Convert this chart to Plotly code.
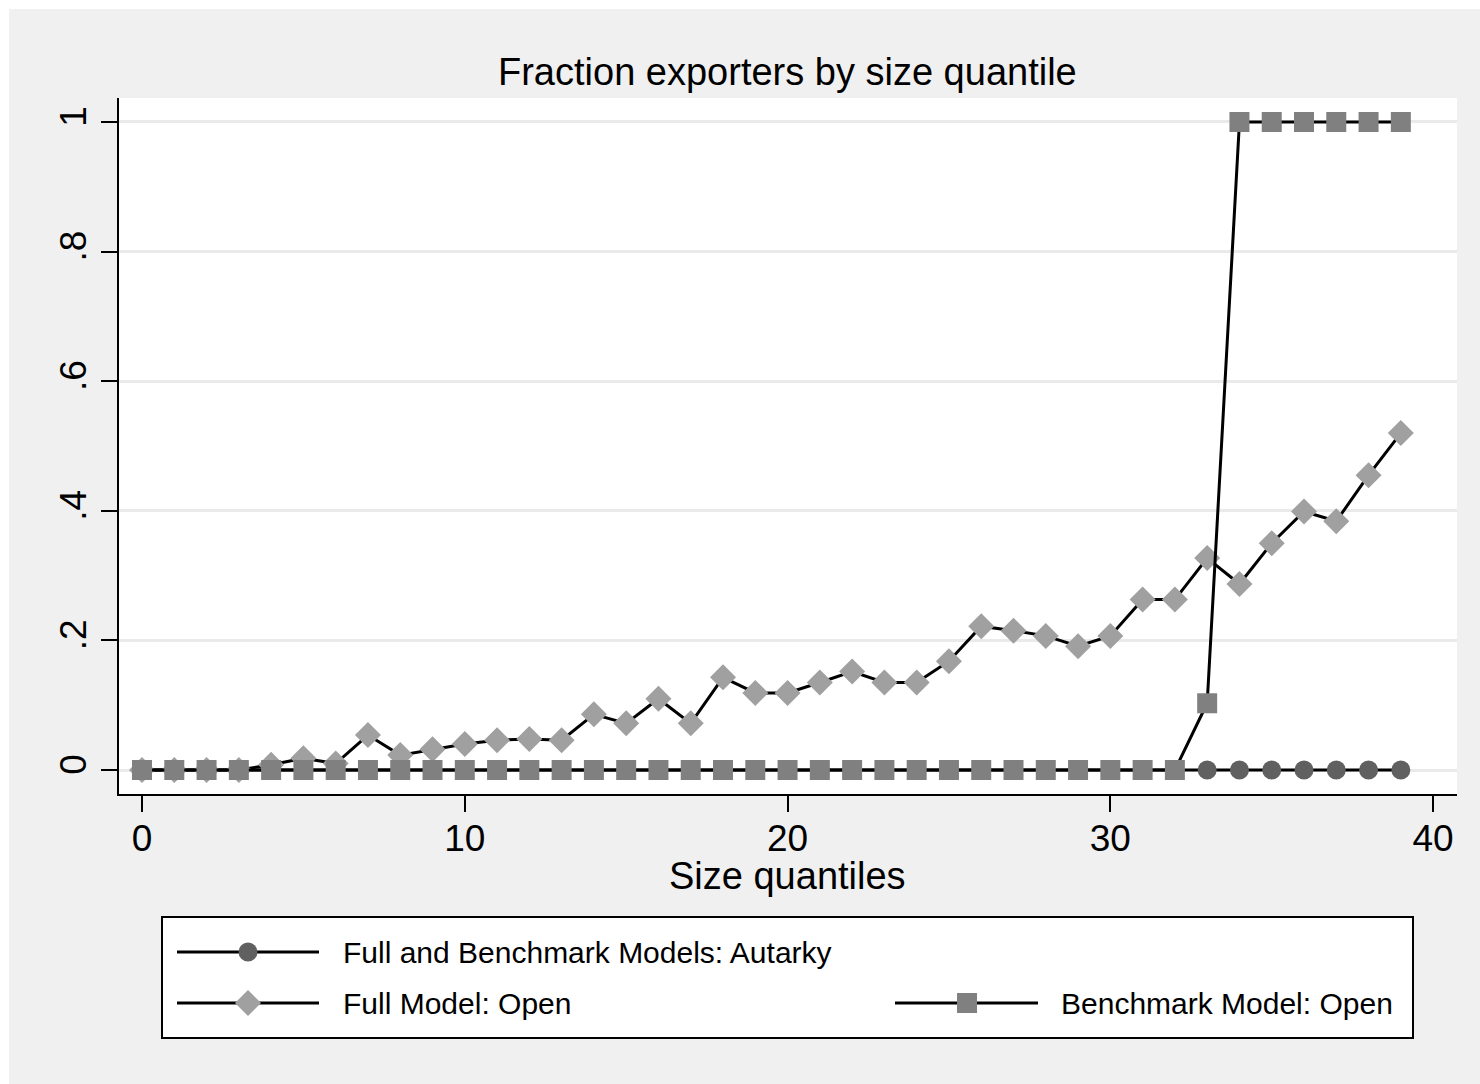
import plotly.graph_objects as go

# ---- data ----
quantiles = list(range(40))
autarky = [0.0] * 40
full_open = [0.0, 0.0, 0.0, 0.0, 0.008, 0.018, 0.010, 0.054, 0.023, 0.032,
             0.040, 0.046, 0.048, 0.046, 0.086, 0.072, 0.110, 0.072, 0.143, 0.119,
             0.119, 0.135, 0.152, 0.135, 0.135, 0.168, 0.222, 0.215, 0.207, 0.191,
             0.207, 0.263, 0.263, 0.327, 0.287, 0.350, 0.399, 0.384, 0.455, 0.520]
bench_open = [0.0] * 33 + [0.103] + [1.0] * 6

series_names = ["Full and Benchmark Models: Autarky", "Full Model: Open", "Benchmark Model: Open"]
x_ticks = [0, 10, 20, 30, 40]
y_ticks = [0, 0.2, 0.4, 0.6, 0.8, 1.0]
y_ticktext = ["0", ".2", ".4", ".6", ".8", "1"]

FONT = "Liberation Sans, Arial, sans-serif"
W, H = 1480, 1084
L, R, T, B = 119, 23, 98, 290
PW, PH = W - L - R, H - T - B

def px(xp):
    return (xp - L) / PW

def py(yp):
    return (H - B - yp) / PH

C_CIRCLE = "#606060"
C_DIAMOND = "#a0a0a0"
C_SQUARE = "#808080"
LW = 3

fig = go.Figure()
fig.add_trace(go.Scatter(x=quantiles, y=autarky, mode="lines+markers", name=series_names[0],
                         line=dict(color="black", width=LW),
                         marker=dict(symbol="circle", size=19, color=C_CIRCLE, line=dict(width=0))))
fig.add_trace(go.Scatter(x=quantiles, y=full_open, mode="lines+markers", name=series_names[1],
                         line=dict(color="black", width=LW),
                         marker=dict(symbol="diamond", size=20, color=C_DIAMOND, line=dict(width=0))))
fig.add_trace(go.Scatter(x=quantiles, y=bench_open, mode="lines+markers", name=series_names[2],
                         line=dict(color="black", width=LW),
                         marker=dict(symbol="square", size=20, color=C_SQUARE, line=dict(width=0))))

shapes = []
# white outer border strips (top, left)
shapes.append(dict(type="rect", xref="paper", yref="paper", x0=px(0), x1=px(W), y0=py(9), y1=py(0),
                   fillcolor="white", line=dict(width=0), layer="below"))
shapes.append(dict(type="rect", xref="paper", yref="paper", x0=px(0), x1=px(9), y0=py(H), y1=py(0),
                   fillcolor="white", line=dict(width=0), layer="below"))

# legend box
shapes.append(dict(type="rect", xref="paper", yref="paper", x0=px(162), x1=px(1413), y0=py(1038), y1=py(917),
                   fillcolor="white", line=dict(color="black", width=2), layer="above"))

legend_keys = [
    (177, 319, 248, 952, "circle", C_CIRCLE),
    (177, 319, 248, 1003, "diamond", C_DIAMOND),
    (895, 1038, 967, 1003, "square", C_SQUARE),
]
for x0p, x1p, xm, yc, sym, col in legend_keys:
    shapes.append(dict(type="line", xref="paper", yref="paper", x0=px(x0p), x1=px(x1p), y0=py(yc), y1=py(yc),
                       line=dict(color="black", width=3), layer="above"))
    base = dict(xref="paper", yref="paper", xsizemode="pixel", ysizemode="pixel",
                xanchor=px(xm), yanchor=py(yc), fillcolor=col, line=dict(width=0), layer="above")
    if sym == "circle":
        shapes.append(dict(type="circle", x0=-9.5, x1=9.5, y0=-9.5, y1=9.5, **base))
    elif sym == "square":
        shapes.append(dict(type="rect", x0=-10, x1=10, y0=-10, y1=10, **base))
    else:
        shapes.append(dict(type="path", path="M-13,0 L0,13 L13,0 L0,-13 Z", **base))

annotations = [
    dict(text="Fraction exporters by size quantile", xref="paper", yref="paper",
         x=px(787), y=py(72), xanchor="center", yanchor="middle", showarrow=False,
         font=dict(family=FONT, size=38, color="black")),
    dict(text="Size quantiles", xref="paper", yref="paper",
         x=px(787), y=py(876), xanchor="center", yanchor="middle", showarrow=False,
         font=dict(family=FONT, size=38, color="black")),
    dict(text=series_names[0], xref="paper", yref="paper", x=px(341), y=py(952),
         xanchor="left", yanchor="middle", showarrow=False, font=dict(family=FONT, size=30, color="black")),
    dict(text=series_names[1], xref="paper", yref="paper", x=px(341), y=py(1003),
         xanchor="left", yanchor="middle", showarrow=False, font=dict(family=FONT, size=30, color="black")),
    dict(text=series_names[2], xref="paper", yref="paper", x=px(1059), y=py(1003),
         xanchor="left", yanchor="middle", showarrow=False, font=dict(family=FONT, size=30, color="black")),
]

fig.update_layout(
    width=W, height=H,
    margin=dict(l=L, r=R, t=T, b=B, pad=0),
    paper_bgcolor="#f0f0f0", plot_bgcolor="white",
    showlegend=False,
    font=dict(family=FONT, size=37, color="black"),
    shapes=shapes, annotations=annotations,
    xaxis=dict(range=[-0.713, 40.74], tickvals=x_ticks, showgrid=False, zeroline=False,
               showline=True, linecolor="black", linewidth=2, ticks="outside", ticklen=16,
               tickwidth=2, tickcolor="black", tickfont=dict(family=FONT, size=37, color="black"),
               ticklabelstandoff=-5),
    yaxis=dict(range=[-0.037, 1.037], tickvals=y_ticks, ticktext=y_ticktext, tickangle=-90,
               showgrid=True, gridcolor="#eaeaea", gridwidth=3, zeroline=False,
               showline=True, linecolor="black", linewidth=2, ticks="outside", ticklen=16,
               tickwidth=2, tickcolor="black", tickfont=dict(family=FONT, size=37, color="black")),
)

fig.write_html("out.html", config={"displayModeBar": False},
               post_script="document.body.style.margin='0';document.body.style.overflow='hidden';")
